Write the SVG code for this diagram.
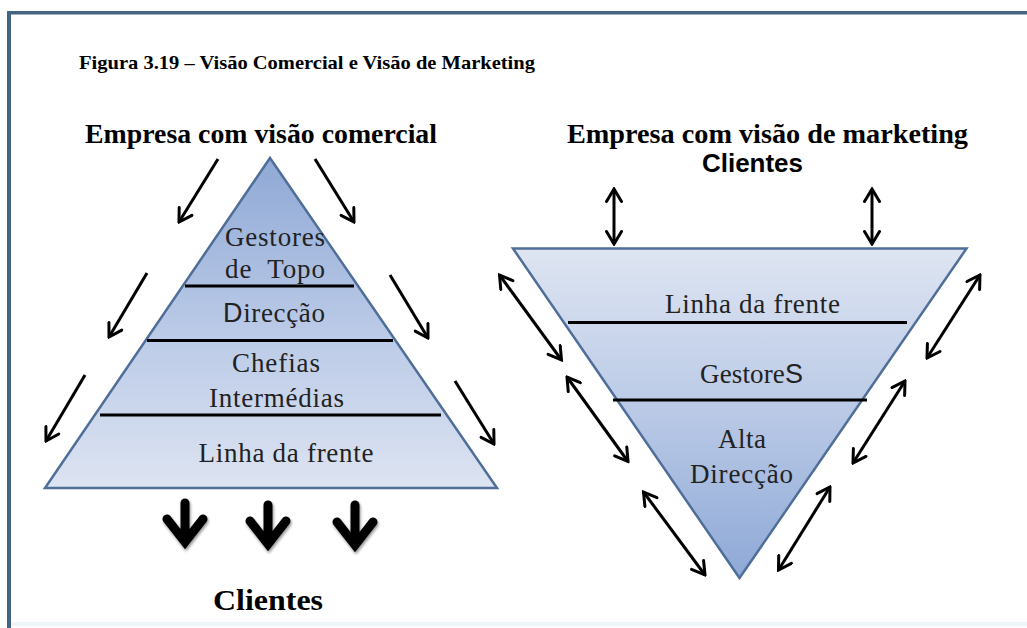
<svg xmlns="http://www.w3.org/2000/svg" width="1027" height="628" viewBox="0 0 1027 628">
  <defs>
    <linearGradient id="gUp" x1="0" y1="0" x2="0" y2="1">
      <stop offset="0" stop-color="#8fa9d6"/>
      <stop offset="0.5" stop-color="#b8c8e6"/>
      <stop offset="1" stop-color="#dde4f2"/>
    </linearGradient>
    <linearGradient id="gDown" x1="0" y1="0" x2="0" y2="1">
      <stop offset="0" stop-color="#dee5f2"/>
      <stop offset="0.5" stop-color="#b9c9e6"/>
      <stop offset="1" stop-color="#8ea9d7"/>
    </linearGradient>
    <marker id="vh" viewBox="0 0 18 18" refX="16" refY="9" markerWidth="18" markerHeight="18" markerUnits="userSpaceOnUse" orient="auto-start-reverse">
      <path d="M3.5,1.5 L16,9 L3.5,16.5" fill="none" stroke="#000" stroke-width="3" stroke-linecap="round" stroke-linejoin="miter"/>
    </marker>
    <filter id="sh" x="-30%" y="-30%" width="160%" height="160%">
      <feGaussianBlur in="SourceAlpha" stdDeviation="1.5"/>
      <feOffset dx="1" dy="2" result="b"/>
      <feComponentTransfer><feFuncA type="linear" slope="0.45"/></feComponentTransfer>
      <feMerge><feMergeNode/><feMergeNode in="SourceGraphic"/></feMerge>
    </filter>
  </defs>
  <style>
    .tri { stroke: #4f6e98; stroke-width: 2.5; stroke-linejoin: miter; }
    .sep { stroke: #000; stroke-width: 3; }
    .lbl { font-family: "Liberation Serif", "Times New Roman", serif; font-size: 27px; fill: #222; text-anchor: middle; }
    .head { font-family: "Liberation Serif", "Times New Roman", serif; font-weight: bold; font-size: 28px; fill: #000; text-anchor: middle; }
    .sans { font-family: "Liberation Sans", Arial, sans-serif; }
    .dbl { stroke: #000; stroke-width: 3; fill: none; marker-start: url(#vh); marker-end: url(#vh); }
    .one { stroke: #000; stroke-width: 3; fill: none; marker-end: url(#vh); }
    .fat { stroke: #000; fill: none; stroke-width: 9; stroke-linejoin: miter; stroke-miterlimit: 10; stroke-linecap: round; }
  </style>

  <rect x="0" y="0" width="1027" height="628" fill="#fff"/>
  <g id="frame">
    <rect x="11" y="622" width="1016" height="4" fill="#edf7fa"/>
    <line x1="7" y1="12.8" x2="1027" y2="12.8" stroke="#456482" stroke-width="3.6"/>
    <line x1="9" y1="11" x2="9" y2="628" stroke="#456482" stroke-width="4"/>
  </g>

  <g id="title">
    <text x="79" y="69" font-family="Liberation Serif, Times New Roman, serif" font-weight="bold" font-size="19" textLength="456" lengthAdjust="spacingAndGlyphs">Figura 3.19 – Visão Comercial e Visão de Marketing</text>
  </g>

  <g id="left-heading">
    <text class="head" x="261" y="143" textLength="352" lengthAdjust="spacingAndGlyphs">Empresa com visão comercial</text>
  </g>
  <g id="right-heading">
    <text class="head" x="767.5" y="143" textLength="401" lengthAdjust="spacingAndGlyphs">Empresa com visão de marketing</text>
  </g>

  <g id="pyramid-commercial">
    <polygon class="tri" points="270,158 45,488 497,488" fill="url(#gUp)"/>
    <line class="sep" x1="185" y1="286" x2="354" y2="286"/>
    <line class="sep" x1="147" y1="340.5" x2="393" y2="340.5"/>
    <line class="sep" x1="100" y1="415" x2="441" y2="415"/>
    <text class="lbl" x="275" y="246" textLength="100" lengthAdjust="spacing">Gestores</text>
    <text class="lbl" x="275" y="278" textLength="100" lengthAdjust="spacing" xml:space="preserve">de  Topo</text>
    <text class="lbl" x="274" y="322" textLength="102" lengthAdjust="spacing"><tspan class="sans" font-size="27">D</tspan>irecção</text>
    <text class="lbl" x="276" y="372" textLength="88" lengthAdjust="spacing">Chefias</text>
    <text class="lbl" x="276.5" y="407" textLength="135" lengthAdjust="spacing">Intermédias</text>
    <text class="lbl" x="286" y="462" textLength="175" lengthAdjust="spacing">Linha da frente</text>
  </g>

  <g id="pyramid-marketing">
    <polygon class="tri" points="513,248.5 966.5,248.5 739.5,578" fill="url(#gDown)"/>
    <line class="sep" x1="568" y1="322.5" x2="907" y2="322.5"/>
    <line class="sep" x1="613" y1="400" x2="867" y2="400"/>
    <text class="lbl" x="752.5" y="313" textLength="175" lengthAdjust="spacing">Linha da frente</text>
    <text class="lbl" x="751.5" y="383" textLength="103" lengthAdjust="spacing">Gestore<tspan class="sans">S</tspan></text>
    <text class="lbl" x="742" y="448" textLength="48" lengthAdjust="spacing">Alta</text>
    <text class="lbl" x="741.5" y="483" textLength="103" lengthAdjust="spacing">Direcção</text>
  </g>

  <g id="clientes-bottom">
    <text x="268" y="610" font-family="Liberation Serif, Times New Roman, serif" font-weight="bold" font-size="30" text-anchor="middle" textLength="110" lengthAdjust="spacingAndGlyphs">Clientes</text>
  </g>
  <g id="clientes-top">
    <text x="752.5" y="172" font-family="Liberation Sans, Arial, sans-serif" font-weight="bold" font-size="26" text-anchor="middle" textLength="101" lengthAdjust="spacingAndGlyphs">Clientes</text>
  </g>

  <g id="connectors">
    <line class="one" x1="218" y1="159" x2="179" y2="222"/>
    <line class="one" x1="147" y1="273" x2="109" y2="337"/>
    <line class="one" x1="85" y1="375" x2="46" y2="441"/>
    <line class="one" x1="315" y1="159" x2="354" y2="222"/>
    <line class="one" x1="390" y1="275" x2="428" y2="338"/>
    <line class="one" x1="455" y1="381" x2="494" y2="444"/>

    <g filter="url(#sh)">
      <path class="fat" d="M185,503 V540 M167,519 L185,542 L203,519"/>
      <path class="fat" d="M268,505 V541 M250,521 L268,544 L286,521"/>
      <path class="fat" d="M355,505 V542 M337,522 L355,545 L373,522"/>
    </g>

    <line class="dbl" x1="614" y1="189" x2="614" y2="244"/>
    <line class="dbl" x1="872" y1="189" x2="872" y2="244"/>
    <line class="dbl" x1="499.5" y1="275" x2="561.5" y2="360"/>
    <line class="dbl" x1="567" y1="377" x2="628" y2="461.5"/>
    <line class="dbl" x1="643.5" y1="492" x2="705" y2="575"/>
    <line class="dbl" x1="980" y1="275" x2="927" y2="358"/>
    <line class="dbl" x1="905" y1="381" x2="853" y2="463"/>
    <line class="dbl" x1="830" y1="487" x2="778.5" y2="570"/>
  </g>
</svg>
